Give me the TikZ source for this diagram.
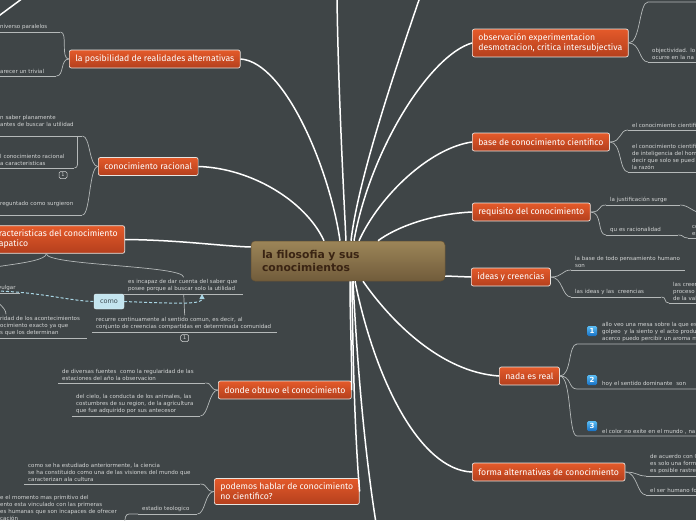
\documentclass[tikz,border=0pt]{standalone}
\usepackage{fontspec}
\setmainfont{DejaVu Sans}
\newfontfamily\topicfam{Fira Sans}
\usetikzlibrary{arrows.meta}
\definecolor{bgdark}{HTML}{3F4547}
\definecolor{topictop}{HTML}{E45A2A}
\definecolor{topicbot}{HTML}{B43F1D}
\definecolor{topicedge}{HTML}{E8E4E0}
\definecolor{roottop}{HTML}{9C8558}
\definecolor{rootbot}{HTML}{715C3B}
\definecolor{rootedge}{HTML}{665234}
\definecolor{rootink}{HTML}{3A2413}
\definecolor{leafgray}{HTML}{D3D5D5}
\definecolor{twiggray}{HTML}{B5B9B9}
\definecolor{relblue}{HTML}{A9D6E5}
\definecolor{relfill}{HTML}{C4E5EF}
\definecolor{relink}{HTML}{3C4A50}
\definecolor{badgetop}{HTML}{5BBDF4}
\definecolor{badgebot}{HTML}{1670C4}
\newcommand{\topicfont}{\topicfam\fontsize{8.7}{10}\selectfont}
\newcommand{\leaffont}{\fontsize{5.5}{7}\selectfont}
\newcommand{\rootfont}{\bfseries\fontsize{10.8}{12.5}\selectfont}

\begin{document}
\begin{tikzpicture}[x=1pt,y=-1pt,
  rootbox/.style={draw=rootedge,line width=0.5pt,rounded corners=4pt,top color=roottop,bottom color=rootbot,text=rootink,font=\rootfont,align=left,text width=172pt,inner xsep=11pt,minimum height=40pt},
  topic/.style={draw=topicedge,line width=0.7pt,rounded corners=2pt,top color=topictop,bottom color=topicbot,text=white,font=\topicfont,align=left,anchor=west,inner xsep=6pt,inner ysep=3pt,minimum height=18pt},
  leaf/.style={text width=#1,font=\leaffont,text=leafgray,align=left,anchor=south west,inner xsep=4pt,inner ysep=2pt},
  stem/.style={draw=white,line width=1.5pt},
  twig/.style={draw=twiggray,line width=0.7pt},
  rel/.style={draw=relblue,line width=1pt,dash pattern=on 3pt off 2pt},
  relbox/.style={fill=relfill,draw=white!60!relfill,rounded corners=2pt,minimum width=30pt,minimum height=15pt,inner sep=0pt,text=relink,font=\fontsize{6.5}{7}\selectfont},
  badge/.style={rounded corners=1.5pt,top color=badgetop,bottom color=badgebot,minimum size=10pt,inner sep=0pt,text=white,font=\bfseries\fontsize{7}{7}\selectfont},
  tally/.style={draw=leafgray,line width=0.5pt,rounded corners=1.5pt,minimum width=8pt,minimum height=7pt,inner sep=0pt,text=leafgray,font=\fontsize{5}{5}\selectfont}]
\useasboundingbox (0,0) rectangle (696,520);
\fill[bgdark] (0,0) rectangle (696,520);
\clip (0,0) rectangle (696,520);

\node[rootbox] (root) at (348,261) {la filosofia y sus\\conocimientos};

\node[topic] (chance) at (69,59) {la posibilidad de realidades alternativas};
\node[topic] (reason) at (98,166.5) {conocimiento racional};
\node[topic,anchor=east,inner xsep=7pt,inner ysep=4.5pt] (vulgar) at (125,239.5) {\hspace*{8pt}racteristicas del conocimiento\\\hspace*{8pt}apatico};
\node[topic] (source) at (218,390) {donde obtuvo el conocimiento};
\node[topic,inner ysep=4.5pt] (nonsci) at (214,491.5) {podemos hablar de conocimiento\\no cientifico?};
\node[topic,inner ysep=4.5pt] (observe) at (472,43) {observación experimentacion\\desmotracion, critica intersubjectiva};
\node[topic] (basis) at (472,142) {base de conocimiento cientifico};
\node[topic] (require) at (472,212) {requisito del conocimiento};
\node[topic] (ideas) at (471,277) {ideas y creencias};
\node[topic] (unreal) at (499,376) {nada es real};
\node[topic] (altform) at (472,472) {forma alternativas de conocimiento};

\node[leaf=56pt] (para) at (-4,32) {niverso paralelos};
\node[leaf=52pt] (trivial) at (-4,76) {arecer un trivial};
\node[leaf=78pt] (plain) at (-4,136) {n saber planamente\\antes de buscar la utilidad\\\mbox{}};
\node[leaf=70pt] (ratfeat) at (-4,168) {l conocimiento racional\\a caracteristicas};
\node[leaf=78pt] (origin) at (-4,215) {reguntado como surgieron\\\mbox{}};
\node[tally] (ratcount) at (63,175) {1};

\node[leaf=18pt] (common) at (-6,293) {vulgar};
\node[leaf=111pt] (incapable) at (124,294) {es incapaz de dar cuenta del saber que\\posee porque al buscar solo la utilidad};
\node[leaf=177pt] (sense) at (92,332) {recurre continuamente al sentido comun, es decir, al\\conjunto de creencias compartidas en determinada comunidad};
\node[tally] (sensecount) at ([yshift=-6pt]sense.south) {1};
\node[leaf=83pt] (exact) at (-4,338) {ridad de los acontecimientos\\ocimiento exacto ya que\\s que los determinan};
\node[relbox] (como) at (109,301.5) {como};

\node[leaf=139pt] (seasons) at (58,383) {de diversas fuentes\ \ como la regularidad de las\\estaciones del año la observacion};
\node[leaf=120pt] (ancestors) at (72,416) {del cielo, la conducta de los animales, las\\costumbres de su region, de la agricultura\\que fue adquirido por sus antecesor};
\node[leaf=168pt] (culture) at (24,484) {como se ha estudiado anteriormente, la ciencia\\se ha constituido como una de las visiones del mundo que\\caracterizan ala cultura};
\node[leaf=51pt] (theol) at (138,514) {estadio teologico};
\node[leaf=120pt] (primitive) at (-4,523) {e el momento mas primitivo del\\ento esta vinculado con las primeras\\es humanas que son incapaces de ofrecer\\cación};

\node[leaf=70pt] (objective) at (648,62) {objectividad. lo\\ocurre en la na};
\node[leaf=80pt] (sci1) at (628,130) {el conocimiento cientifi};
\node[leaf=80pt] (sci2) at (628,172) {el conocimiento cientifi\\de inteligencia del hom\\decir que solo se pued\\la razón};
\node[leaf=66pt] (justify) at (606,205) {la justificación surge};
\node[leaf=64pt] (rational) at (606,235) {qu es racionalidad};
\node[leaf=20pt] (ratnext) at (688,238) {co\\es};
\node[leaf=106pt] (ground) at (571,270) {la base de todo pensamiento humano\\son};
\node[leaf=82pt] (bothideas) at (571,297) {las ideas y las\ \ creencias};
\node[leaf=30pt] (process) at (669,303) {las creen\\proceso\\de la val};
\node[badge] (one) at (592,331) {1};
\node[leaf=100pt] (table) at (598,344) {allo veo una mesa sobre la que es\\golpeo\ \ y la siento y el acto produ\\acerco puedo percibir un aroma m};
\node[badge] (two) at (592,380) {2};
\node[leaf=100pt] (sense2) at (598,389) {hoy el sentido dominante\ \ son};
\node[badge] (three) at (592,426) {3};
\node[leaf=100pt] (colour) at (598,436) {el color no exite en el mundo , na};
\node[leaf=60pt] (accord) at (646,476) {de acuerdo con C\\es solo una form\\es posible rastre};
\node[leaf=60pt] (human) at (646,495) {el ser humano fo};

\coordinate (upA) at (337,-3);
\coordinate (upB) at (420,-3);
\coordinate (downC) at (376,523);
\coordinate (nwA) at (-2,16.5);
\coordinate (nwB) at (23,-2);
\coordinate (commontop) at (-40,278);
\coordinate (relfrom) at (-4,291);
\coordinate (topline) at (648,2);
\coordinate (topend) at (700,2);
\coordinate (justnext) at (702,213);
\coordinate (tablefoot) at ([xshift=-21pt]table.south west);
\coordinate (sense2foot) at ([xshift=-21pt]sense2.south west);
\coordinate (colourfoot) at ([xshift=-21pt]colour.south west);

\draw[stem] (chance.east) .. controls (285,62) and (330,170) .. ([xshift=-8pt]root.north);
\draw[stem] (reason.east) .. controls (250,168) and (305,200) .. ([xshift=-24pt]root.north);
\draw[stem] (vulgar.east) .. controls (180,240) and (220,246) .. ([yshift=14pt]root.west);
\draw[stem] (upA) .. controls (338,80) and (343,180) .. ([xshift=-2pt]root.north);
\draw[stem] (upB) .. controls (395,70) and (358,180) .. ([xshift=3pt]root.north);
\draw[stem] (observe.west) .. controls (430,55) and (370,150) .. ([xshift=6pt]root.north);
\draw[stem] (basis.west) .. controls (430,148) and (380,195) .. ([xshift=11pt]root.north);
\draw[stem] (require.west) .. controls (430,214) and (395,228) .. ([xshift=30pt]root.north);
\draw[stem] (ideas.west) -- ([yshift=-15pt]root.east);
\draw[stem] ([xshift=15pt]root.south) .. controls (390,320) and (440,372) .. (unreal.west);
\draw[stem] ([xshift=7pt]root.south) .. controls (375,380) and (420,470) .. (altform.west);
\draw[stem] ([xshift=2pt]root.south) .. controls (350,320) and (352,360) .. (source.east);
\draw[stem] ([xshift=4pt]root.south) .. controls (353,380) and (356,450) .. (nonsci.east);
\draw[stem] ([xshift=5pt]root.south) .. controls (358,380) and (366,460) .. (downC);
\draw[stem] (nwA) -- (nwB);

\foreach \n in {para,trivial,plain,ratfeat,origin,common,incapable,sense,exact,seasons,ancestors,culture,theol,primitive,objective,sci1,sci2,justify,rational,ratnext,ground,bothideas,process,accord,human}
  \draw[twig] (\n.south west) -- (\n.south east);

\draw[twig] (chance.west) .. controls +(-9,0) and +(8,0) .. (para.south east);
\draw[twig] (chance.west) .. controls +(-9,0) and +(8,0) .. (trivial.south east);
\draw[twig] (reason.west) .. controls +(-9,0) and +(8,0) .. (plain.south east);
\draw[twig] (reason.west) .. controls +(-9,0) and +(8,0) .. (origin.south east);
\draw[twig,rounded corners=3pt] ([xshift=-5pt]plain.south east) |- (ratfeat.south east);
\draw[twig] ([xshift=-8pt]vulgar.south) .. controls +(0,12) and +(0,-12) .. (commontop);
\draw[twig] ([xshift=-8pt]vulgar.south) .. controls +(0,12) and +(0,-12) .. (incapable.north);
\draw[twig] (incapable.south) -- (sense.north);
\draw[twig] (common.south west) .. controls +(0,10) and +(0,-8) .. ([xshift=10pt]exact.north west);
\draw[rel] (relfrom) .. controls (40,292) and (70,301) .. (como.west);
\draw[rel,-{Triangle[length=5pt,width=5pt]}] (como.east) .. controls (185,304) and (202,304) .. ([xshift=78pt]incapable.south west);
\draw[twig] (source.west) .. controls +(-9,0) and +(8,0) .. (seasons.south east);
\draw[twig] (source.west) .. controls +(-9,0) and +(8,0) .. (ancestors.south east);
\draw[twig] (nonsci.west) .. controls +(-9,0) and +(8,0) .. (culture.south east);
\draw[twig] (nonsci.west) .. controls +(-9,0) and +(8,0) .. (theol.south east);
\draw[twig,rounded corners=3pt] (theol.south west) -- ++(-12,0) -- (primitive.south east);

\draw[twig] (observe.east) .. controls +(12,0) and +(-9,0) .. (topline) -- (topend);
\draw[twig] (observe.east) .. controls +(12,0) and +(-9,0) .. (objective.south west);
\draw[twig] (basis.east) .. controls +(12,0) and +(-9,0) .. (sci1.south west);
\draw[twig] (basis.east) .. controls +(12,0) and +(-9,0) .. (sci2.south west);
\draw[twig] (require.east) .. controls +(12,0) and +(-9,0) .. (justify.south west);
\draw[twig] (require.east) .. controls +(12,0) and +(-9,0) .. (rational.south west);
\draw[twig] (justify.south east) .. controls +(8,0) and +(-8,0) .. (justnext);
\draw[twig] (rational.south east) .. controls +(6,0) and +(-6,0) .. (ratnext.south west);
\draw[twig] (ideas.east) .. controls +(12,0) and +(-9,0) .. (ground.south west);
\draw[twig] (ideas.east) .. controls +(12,0) and +(-9,0) .. (bothideas.south west);
\draw[twig] (bothideas.south east) .. controls +(6,0) and +(-6,0) .. (process.south west);
\draw[twig] (unreal.east) .. controls +(12,0) and +(-9,0) .. (tablefoot) -- (table.south east);
\draw[twig] (unreal.east) .. controls +(12,0) and +(-9,0) .. (sense2foot) -- (sense2.south east);
\draw[twig] (unreal.east) .. controls +(12,0) and +(-9,0) .. (colourfoot) -- (colour.south east);
\draw[twig] (altform.east) .. controls +(12,0) and +(-9,0) .. (accord.south west);
\draw[twig] (altform.east) .. controls +(12,0) and +(-9,0) .. (human.south west);
\end{tikzpicture}
\end{document}
